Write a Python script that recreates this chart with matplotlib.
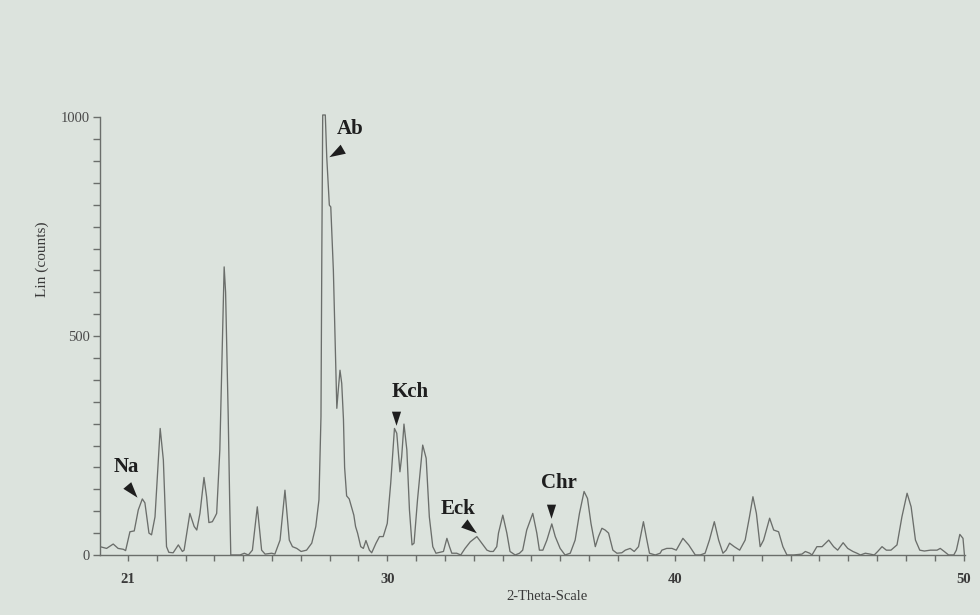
import matplotlib
matplotlib.use("Agg")
import matplotlib.pyplot as plt
import numpy as np

# 2-theta positions and intensities
theta = [20.03, 20.26, 20.49, 20.66, 20.84, 20.92, 21.07, 21.22, 21.36, 21.50,
         21.59, 21.73, 21.82, 21.94, 22.12, 22.23, 22.34, 22.42, 22.57, 22.75,
         22.89, 22.95, 23.15, 23.30, 23.39, 23.50, 23.64, 23.73, 23.81, 23.93,
         24.02, 24.08, 24.19, 24.27, 24.32, 24.34, 24.39, 24.43, 24.48, 24.53,
         24.57, 24.89, 25.04, 25.18, 25.32, 25.49, 25.64, 25.76, 25.99, 26.10,
         26.28, 26.45, 26.60, 26.71, 26.86, 27.01, 27.20, 27.38, 27.52, 27.63,
         27.70, 27.73, 27.76, 27.85, 27.90, 27.99, 28.04, 28.13, 28.25, 28.30,
         28.36, 28.42, 28.48, 28.52, 28.59, 28.68, 28.84, 28.90, 28.97, 29.08,
         29.17, 29.26, 29.38, 29.46, 29.61, 29.73, 29.86, 30.00, 30.12, 30.25,
         30.33, 30.44, 30.50, 30.58, 30.68, 30.77, 30.86, 30.93, 31.05, 31.23,
         31.35, 31.46, 31.58, 31.69, 31.95, 32.07, 32.16, 32.24, 32.41, 32.55,
         32.70, 32.88, 33.11, 33.28, 33.46, 33.57, 33.68, 33.80, 33.86, 34.01,
         34.15, 34.26, 34.44, 34.59, 34.70, 34.84, 35.05, 35.19, 35.28, 35.40,
         35.54, 35.71, 35.83, 36.00, 36.17, 36.35, 36.52, 36.67, 36.83, 36.95,
         37.07, 37.22, 37.33, 37.45, 37.56, 37.68, 37.83, 37.97, 38.14, 38.26,
         38.43, 38.57, 38.72, 38.89, 39.01, 39.10, 39.30, 39.47, 39.53, 39.70,
         39.88, 40.03, 40.26, 40.46, 40.69, 40.86, 41.03, 41.18, 41.35, 41.50,
         41.65, 41.76, 41.88, 42.04, 42.23, 42.42, 42.57, 42.69, 42.81, 42.94,
         43.06, 43.27, 43.41, 43.58, 43.73, 43.87, 44.10, 44.39, 44.51, 44.66,
         44.74, 44.91, 45.09, 45.32, 45.49, 45.63, 45.82, 45.98, 46.16, 46.30,
         46.42, 46.59, 46.76, 46.90, 47.02, 47.17, 47.32, 47.48, 47.69, 47.86,
         48.04, 48.18, 48.33, 48.48, 48.64, 48.85, 49.08, 49.19, 49.33, 49.48,
         49.66, 49.75, 49.87, 49.98, 50.03]
counts = [19, 15, 25, 15, 13, 10, 53, 55, 103, 128,
          119, 50, 46, 87, 289, 217, 19, 6, 5, 23,
          8, 11, 95, 65, 57, 95, 177, 133, 74, 76,
          87, 95, 240, 468, 621, 658, 600, 470, 320, 130,
          0, 0, 4, 0, 11, 110, 11, 2, 4, 2,
          34, 148, 34, 19, 15, 8, 11, 27, 65, 126,
          316, 696, 1005, 1005, 909, 799, 795, 650, 335, 377,
          422, 392, 310, 200, 135, 128, 91, 65, 50, 19,
          15, 33, 11, 5, 27, 42, 42, 72, 164, 289,
          278, 190, 224, 299, 240, 103, 23, 27, 126, 251,
          221, 87, 19, 4, 8, 38, 19, 4, 4, 0,
          15, 30, 42, 27, 11, 8, 8, 19, 50, 91,
          50, 8, 0, 4, 11, 57, 95, 50, 11, 11,
          34, 71, 42, 15, 0, 4, 34, 95, 145, 129,
          72, 19, 42, 61, 57, 50, 11, 4, 5, 11,
          15, 8, 19, 76, 34, 4, 0, 4, 11, 15,
          15, 11, 38, 23, 0, 0, 4, 34, 76, 34,
          4, 11, 27, 19, 11, 34, 87, 133, 95, 19,
          34, 84, 57, 53, 19, 0, 0, 2, 8, 4,
          0, 19, 19, 34, 19, 11, 28, 15, 8, 4,
          0, 4, 2, 0, 8, 19, 11, 11, 23, 87,
          141, 110, 34, 11, 9, 11, 11, 15, 8, 0,
          0, 11, 47, 38, 0]

# phase labels: name, text position, arrow position, arrow direction (deg)
phases = ["Na", "Ab", "Kch", "Eck", "Chr"]
label_xy = [(20.95, 200), (28.71, 974), (30.79, 373), (32.47, 106), (35.95, 164)]
arrow_xy = [(21.12, 148), (28.27, 921), (30.29, 316), (32.82, 65), (35.68, 103)]
arrow_dir = [-50, -150, -90, -38, -90]

bg = "#dce3dd"
line_col = "#6b6e6b"
serif = ["Liberation Serif", "DejaVu Serif"]

fig = plt.figure(figsize=(9.8, 6.15), dpi=100, facecolor=bg)
ax = fig.add_axes([0.102, 0.0976, 0.883, 0.719], facecolor=bg)

ax.plot(theta, counts, color=line_col, lw=0.95, solid_joinstyle="round")

ax.set_xlim(20.03, 50.06)
ax.set_ylim(0, 1010)

for s in ["top", "right"]:
    ax.spines[s].set_visible(False)
for s in ["left", "bottom"]:
    ax.spines[s].set_color(line_col)
    ax.spines[s].set_linewidth(1.0)
ax.spines["left"].set_bounds(0, 1000)

ax.set_xticks([21, 30, 40, 50])
ax.set_xticks(np.arange(21, 51, 1), minor=True)
ax.set_yticks([0, 500, 1000])
ax.set_yticks(np.arange(0, 1001, 50), minor=True)
ax.tick_params(axis="both", which="both", color=line_col, width=1.0)
ax.tick_params(axis="x", which="both", length=4, pad=9)
ax.tick_params(axis="y", which="both", length=5, pad=2)

for lab in ax.get_xticklabels():
    lab.set_family(serif)
    lab.set_fontsize(10.5)
    lab.set_fontweight("bold")
    lab.set_color("#3a3a3a")
for lab in ax.get_yticklabels():
    lab.set_family(serif)
    lab.set_fontsize(10.5)
    lab.set_color("#4a4a4a")

fig.text(0.0429, 0.578, "Lin (counts)", rotation=90, ha="center", va="center",
         family=serif, fontsize=11, color="#3a3a3a")
fig.text(0.558, 0.030, "2-Theta-Scale", ha="center", va="center",
         family=serif, fontsize=10.5, color="#3a3a3a")


def wedge(angle):
    # narrow triangle pointing along angle (degrees)
    pts = np.array([[1.0, 0.0], [-0.7, 0.55], [-0.7, -0.55]])
    a = np.deg2rad(angle)
    rot = np.array([[np.cos(a), -np.sin(a)], [np.sin(a), np.cos(a)]])
    return pts @ rot.T


for name, (tx, ty), (axx, ay), d in zip(phases, label_xy, arrow_xy, arrow_dir):
    ax.text(tx, ty, name, ha="center", va="center", family=serif,
            fontsize=15, fontweight="bold", color="#1e1e1e")
    ax.plot(axx, ay, marker=wedge(d), markersize=12, color="#1e1e1e",
            markeredgewidth=0)

fig.savefig("out.png", dpi=100, facecolor=bg)
